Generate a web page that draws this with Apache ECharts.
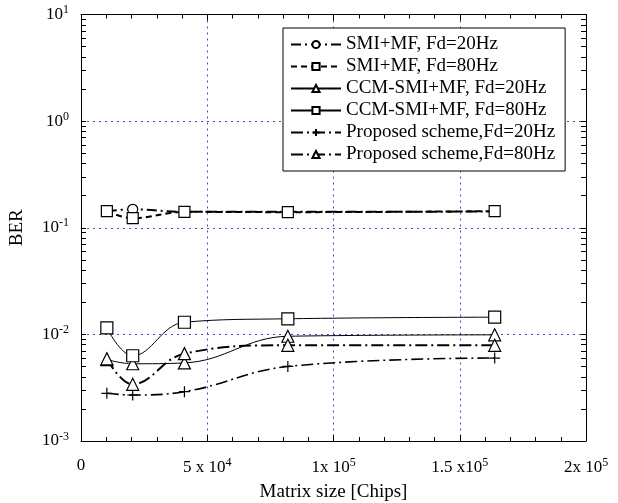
<!DOCTYPE html>
<html>
<head>
<meta charset="utf-8">
<script src="https://cdn.jsdelivr.net/npm/echarts@6/dist/echarts.min.js"></script>
<style>
  html, body { margin: 0; padding: 0; background: #fff; }
  #chart { width: 618px; height: 503px; }
</style>
</head>
<body>
<div id="chart"></div>
<script>
// matrix sizes (chips)
const matrixSize = [10240, 20480, 40960, 81920, 163840];

// BER
const smi20 = [0.143, 0.149, 0.141, 0.141, 0.142];
const smi80 = [0.143, 0.123, 0.141, 0.140, 0.143];
const ccm20 = [0.0058, 0.0053, 0.0054, 0.0096, 0.0099];
const ccm80 = [0.0115, 0.0063, 0.0130, 0.0140, 0.0145];
const prop20 = [0.0028, 0.0027, 0.0029, 0.0050, 0.0060];
const prop80 = [0.0059, 0.0034, 0.0066, 0.0079, 0.0079];

const seriesNames = [
  'SMI+MF, Fd=20Hz',
  'SMI+MF, Fd=80Hz',
  'CCM-SMI+MF, Fd=20Hz',
  'CCM-SMI+MF, Fd=80Hz',
  'Proposed scheme,Fd=20Hz',
  'Proposed scheme,Fd=80Hz',
];

// tick labels
const xTickValues = [0, 50000, 100000, 150000, 200000];
const xTickLabels = ['0', '5 x 10{sup|4}', '1x 10{sup|5}', '1.5 x10{sup|5}', '2x 10{sup|5}'];
const yTickExponents = [-3, -2, -1, 0, 1];

// log minor ticks 1..9 x 10^n
const yMinorTicks = [];
yTickExponents.forEach((e) => {
  for (let m = 1; m <= (e === 1 ? 1 : 9); m++) yMinorTicks.push(+(m * Math.pow(10, e)).toPrecision(3));
});

const font = 'Liberation Serif';
const gridColor = '#5a3cc0';
const plusPath = 'path://M0,5L10,5M5,0L5,10';

const supRich = {
  sup: { fontSize: 12, fontFamily: font, color: '#000', padding: [0, 0, 9, 0] },
};

const chart = echarts.init(document.getElementById('chart'), null, { renderer: 'canvas' });

function mkSeries(name, data, symbol, size, lineType, lineWidth) {
  return {
    name: name,
    type: 'line',
    data: matrixSize.map((x, i) => [x, data[i]]),
    smooth: 0.4,
    symbol: symbol,
    symbolSize: size,
    showSymbol: true,
    xAxisIndex: 0,
    yAxisIndex: 0,
    lineStyle: { color: '#000', width: lineWidth, type: lineType },
    itemStyle: { color: '#fff', borderColor: '#000', borderWidth: 1.2 },
    emphasis: { disabled: true },
    z: 3,
  };
}

const tickLine = { show: true, lineStyle: { color: '#000', width: 1 } };

const option = {
  backgroundColor: '#fff',
  animation: false,
  grid: { left: 81, right: 32, top: 14.5, bottom: 62, containLabel: false, outerBoundsMode: 'none' },
  legend: {
    orient: 'vertical',
    left: 283,
    top: 28,
    data: seriesNames,
    itemWidth: 50,
    itemHeight: 9,
    itemGap: 3,
    padding: [7, 10, 7, 7],
    backgroundColor: '#fff',
    borderColor: '#000',
    borderWidth: 1,
    borderRadius: 0,
    selectedMode: false,
    textStyle: { fontFamily: font, fontSize: 19, color: '#000', lineHeight: 18 },
  },
  xAxis: [
    {
      type: 'value',
      min: 0,
      max: 200000,
      interval: 50000,
      position: 'bottom',
      name: 'Matrix size [Chips]',
      nameLocation: 'middle',
      nameGap: 42,
      nameTextStyle: { fontFamily: font, fontSize: 19, color: '#000' },
      axisLine: tickLine,
      axisTick: { show: true, inside: true, length: 6, lineStyle: { color: '#000' } },
      minorTick: { show: true, splitNumber: 5, length: 4, lineStyle: { color: '#000' } },
      axisLabel: {
        color: '#000',
        fontFamily: font,
        fontSize: 17,
        margin: 16,
        rich: supRich,
        formatter: (v) => {
          const i = xTickValues.indexOf(v);
          return i >= 0 ? xTickLabels[i] : '';
        },
      },
      splitLine: {
        show: true,
        lineStyle: { color: gridColor, width: 1, type: [2, 4] },
      },
    },
    {
      type: 'value',
      min: 0,
      max: 200000,
      interval: 50000,
      position: 'top',
      axisLine: tickLine,
      axisTick: { show: true, inside: true, length: 6, lineStyle: { color: '#000' } },
      minorTick: { show: true, splitNumber: 5, length: 4, lineStyle: { color: '#000' } },
      axisLabel: { show: false },
      splitLine: { show: false },
    },
  ],
  yAxis: [
    {
      type: 'log',
      logBase: 10,
      min: 0.001,
      max: 10,
      position: 'left',
      name: 'BER',
      nameLocation: 'middle',
      nameGap: 54,
      nameTextStyle: { fontFamily: font, fontSize: 19, color: '#000' },
      axisLine: tickLine,
      axisTick: { show: false },
      axisLabel: {
        color: '#000',
        fontFamily: font,
        fontSize: 17,
        margin: 12,
        rich: supRich,
        formatter: (v) => {
          const e = Math.round(Math.log10(v));
          return yTickExponents.indexOf(e) >= 0 ? '10{sup|' + e + '}' : '';
        },
      },
      splitLine: {
        show: true,
        lineStyle: { color: gridColor, width: 1, type: [2, 4] },
      },
    },
    {
      type: 'log',
      logBase: 10,
      min: 0.001,
      max: 10,
      position: 'left',
      axisLine: { show: false },
      axisTick: { show: true, inside: true, length: 5, customValues: yMinorTicks, lineStyle: { color: '#000' } },
      axisLabel: { show: false },
      splitLine: { show: false },
    },
    {
      type: 'log',
      logBase: 10,
      min: 0.001,
      max: 10,
      position: 'right',
      axisLine: tickLine,
      axisTick: { show: true, inside: true, length: 5, customValues: yMinorTicks, lineStyle: { color: '#000' } },
      axisLabel: { show: false },
      splitLine: { show: false },
    },
  ],
  series: [
    mkSeries(seriesNames[0], smi20, 'circle', 10, [10, 4, 2, 4], 2),
    mkSeries(seriesNames[1], smi80, 'rect', 11, [6, 4], 2),
    mkSeries(seriesNames[2], ccm20, 'triangle', 12, 'solid', 1),
    mkSeries(seriesNames[3], ccm80, 'rect', 12, 'solid', 1),
    mkSeries(seriesNames[4], prop20, plusPath, 11, [12, 4, 2, 4], 1.6),
    mkSeries(seriesNames[5], prop80, 'triangle', 12, [12, 4, 2, 4], 2),
  ],
};

chart.setOption(option);
</script>
</body>
</html>
